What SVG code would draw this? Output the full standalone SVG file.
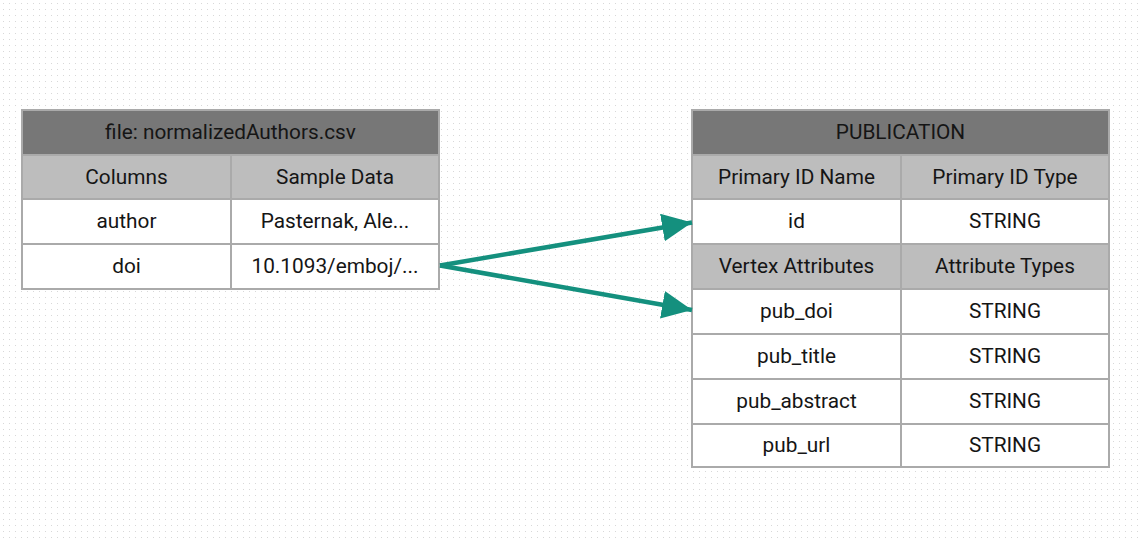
<svg xmlns="http://www.w3.org/2000/svg" width="1138" height="540" viewBox="0 0 1138 540">
<defs>
<pattern id="dots" width="6" height="6" patternUnits="userSpaceOnUse">
<rect x="3" y="3" width="1" height="1" fill="#d8d8d8"/>
</pattern>
<marker id="ah" markerUnits="userSpaceOnUse" markerWidth="32" markerHeight="30" refX="30" refY="14" orient="auto">
<path d="M0,0 L30,14 L0,28 Z" fill="#14907e"/>
</marker>
<style>
.hd{fill:#777777;stroke:#aaaaaa;stroke-width:2}
.sh{fill:#bdbdbd;stroke:#aaaaaa;stroke-width:2}
.cl{fill:#ffffff;stroke:#aaaaaa;stroke-width:2}
text{font-family:Roboto,"Liberation Sans",sans-serif;font-size:20.8px;fill:#151515;text-anchor:middle;dominant-baseline:central}
.conn{stroke:#14907e;stroke-width:4.5;fill:none}
</style>
</defs>
<rect width="1138" height="540" fill="#ffffff"/>
<rect width="1138" height="540" fill="url(#dots)"/>
<g id="normalizedAuthors">
<rect class="hd" x="22" y="110" width="417" height="45"/>
<text x="230.5" y="132">file: normalizedAuthors.csv</text>
<rect class="sh" x="22" y="155" width="209" height="44"/>
<rect class="sh" x="231" y="155" width="208" height="44"/>
<text x="126.5" y="176.5">Columns</text>
<text x="335" y="176.5">Sample Data</text>
<rect class="cl" x="22" y="199" width="209" height="45"/>
<rect class="cl" x="231" y="199" width="208" height="45"/>
<text x="126.5" y="221">author</text>
<text x="335" y="221">Pasternak, Ale...</text>
<rect class="cl" x="22" y="244" width="209" height="45"/>
<rect class="cl" x="231" y="244" width="208" height="45"/>
<text x="126.5" y="266">doi</text>
<text x="335" y="266">10.1093/emboj/...</text>
</g>
<g id="publication">
<rect class="hd" x="692" y="110" width="417" height="45"/>
<text x="900.5" y="132">PUBLICATION</text>
<rect class="sh" x="692" y="155" width="209" height="44"/>
<rect class="sh" x="901" y="155" width="208" height="44"/>
<text x="796.5" y="176.5">Primary ID Name</text>
<text x="1005" y="176.5">Primary ID Type</text>
<rect class="cl" x="692" y="199" width="209" height="45"/>
<rect class="cl" x="901" y="199" width="208" height="45"/>
<text x="796.5" y="221">id</text>
<text x="1005" y="221">STRING</text>
<rect class="sh" x="692" y="244" width="209" height="45"/>
<rect class="sh" x="901" y="244" width="208" height="45"/>
<text x="796.5" y="266">Vertex Attributes</text>
<text x="1005" y="266">Attribute Types</text>
<rect class="cl" x="692" y="289" width="209" height="45"/>
<rect class="cl" x="901" y="289" width="208" height="45"/>
<text x="796.5" y="311">pub_doi</text>
<text x="1005" y="311">STRING</text>
<rect class="cl" x="692" y="334" width="209" height="45"/>
<rect class="cl" x="901" y="334" width="208" height="45"/>
<text x="796.5" y="356">pub_title</text>
<text x="1005" y="356">STRING</text>
<rect class="cl" x="692" y="379" width="209" height="45"/>
<rect class="cl" x="901" y="379" width="208" height="45"/>
<text x="796.5" y="401">pub_abstract</text>
<text x="1005" y="401">STRING</text>
<rect class="cl" x="692" y="424" width="209" height="43"/>
<rect class="cl" x="901" y="424" width="208" height="43"/>
<text x="796.5" y="445">pub_url</text>
<text x="1005" y="445">STRING</text>
</g>
<g id="connectors">
<line class="conn" x1="440" y1="265.5" x2="692" y2="222.5" marker-end="url(#ah)"/>
<line class="conn" x1="440" y1="265.5" x2="692" y2="310" marker-end="url(#ah)"/>
</g>
</svg>
